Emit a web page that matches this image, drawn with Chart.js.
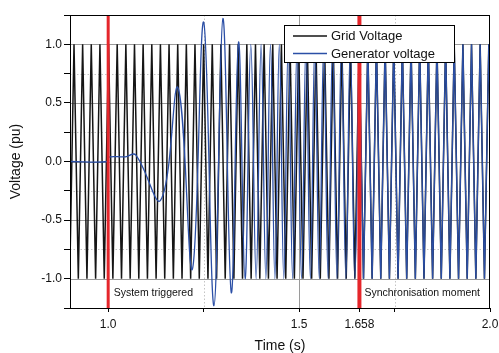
<!DOCTYPE html>
<html>
<head>
<meta charset="utf-8">
<script src="https://cdn.jsdelivr.net/npm/chart.js@4"></script>
<style>
  html, body { margin: 0; padding: 0; background: #fff; }
  #wrap { width: 499px; height: 353px; }
</style>
</head>
<body>
<div id="wrap"><canvas id="chart" width="499" height="353"></canvas></div>
<script>
// Grid voltage: peak times (s) and peak values (pu)
const gridTime = [
  0.8992,
  0.9105, 0.9218, 0.9331, 0.9444, 0.9557, 0.9671, 0.9784, 0.9897,
  1.0010, 1.0123, 1.0236, 1.0349, 1.0463, 1.0576, 1.0689, 1.0802,
  1.0915, 1.1028, 1.1142, 1.1255, 1.1368, 1.1481, 1.1594, 1.1707,
  1.1821, 1.1934, 1.2047, 1.2160, 1.2273, 1.2386, 1.2500, 1.2613,
  1.2726, 1.2839, 1.2952, 1.3065, 1.3179, 1.3292, 1.3405, 1.3518,
  1.3631, 1.3744, 1.3858, 1.3971, 1.4084, 1.4197, 1.4310, 1.4423,
  1.4537, 1.4650, 1.4763, 1.4876, 1.4989, 1.5102, 1.5216, 1.5329,
  1.5442, 1.5555, 1.5668, 1.5781, 1.5895, 1.6008, 1.6121, 1.6234,
  1.6347, 1.6460, 1.6574, 1.6687, 1.6800, 1.6913, 1.7026, 1.7139,
  1.7253, 1.7366, 1.7479, 1.7592, 1.7705, 1.7818, 1.7932, 1.8045,
  1.8158, 1.8271, 1.8384, 1.8497, 1.8611, 1.8724, 1.8837, 1.8950,
  1.9063, 1.9176, 1.9290, 1.9403, 1.9516, 1.9629, 1.9742, 1.9855,
  1.9969, 2.0082
];
const gridVolt = [
  -1,
  1, -1, 1, -1, 1, -1, 1, -1,
  1, -1, 1, -1, 1, -1, 1, -1,
  1, -1, 1, -1, 1, -1, 1, -1,
  1, -1, 1, -1, 1, -1, 1, -1,
  1, -1, 1, -1, 1, -1, 1, -1,
  1, -1, 1, -1, 1, -1, 1, -1,
  1, -1, 1, -1, 1, -1, 1, -1,
  1, -1, 1, -1, 1, -1, 1, -1,
  1, -1, 1, -1, 1, -1, 1, -1,
  1, -1, 1, -1, 1, -1, 1, -1,
  1, -1, 1, -1, 1, -1, 1, -1,
  1, -1, 1, -1, 1, -1, 1, -1,
  1, -1
];

// Generator voltage before synchronisation (turning points)
const genTime = [
  0.9, 0.9995, 1.0005, 1.045, 1.072,
  1.1374, 1.1827, 1.2204, 1.2500, 1.2770, 1.3005, 1.3225,
  1.3415, 1.3585, 1.3735, 1.3875, 1.4005, 1.4130, 1.4250,
  1.4366, 1.4482, 1.4599, 1.4715, 1.4831, 1.4947, 1.5063, 1.5180,
  1.5296, 1.5412, 1.5528, 1.5644, 1.5760, 1.5877, 1.5993, 1.6109,
  1.6225, 1.6341, 1.6458, 1.6574
];
const genVolt = [
  0, 0, 0.037, 0.04, 0.057,
  -0.33, 0.63, -0.92, 1.19, -1.23, 1.22, -1.12,
  1.02, -1, 1, -1, 1, -1, 1,
  -1, 1, -1, 1, -1, 1, -1, 1,
  -1, 1, -1, 1, -1, 1, -1, 1,
  -1, 1, -1, 1
];

const triggerTime = 1.0;
const syncTime = 1.658;
const xTicks = [1.0, 1.25, 1.5, 1.658, 1.75, 2.0];
const xLabels = [1.0, 1.5, 1.658, 2.0];
const yMajor = [-1.0, -0.5, 0.0, 0.5, 1.0];
const legendOrder = ["Grid Voltage", "Generator voltage"];

const FONT = "'Liberation Sans', Arial, Helvetica, sans-serif";

const toPts = (xs, ys) => xs.map((x, i) => ({ x: x, y: ys[i] }));
const gridPts = toPts(gridTime, gridVolt);
const genPre = toPts(genTime, genVolt);
// after synchronisation the generator follows the grid
const lastGen = genTime[genTime.length - 1];
const genPost = gridPts.filter(p => p.x >= lastGen);

const decor = {
  id: "decor",
  beforeDatasetsDraw(chart) {
    const { ctx, chartArea: a, scales: { x, y } } = chart;
    ctx.save();
    ctx.lineWidth = 1;
    // horizontal grid
    for (let v = -1.0; v <= 1.001; v += 0.25) {
      const py = Math.round(y.getPixelForValue(v)) + 0.5;
      const major = yMajor.some(m => Math.abs(m - v) < 1e-6);
      ctx.strokeStyle = major ? "#9a9a9a" : "#c4c4c4";
      ctx.setLineDash(major ? [] : [1.5, 2]);
      ctx.beginPath(); ctx.moveTo(a.left, py); ctx.lineTo(a.right, py); ctx.stroke();
    }
    // vertical grid
    [[1.25, false], [1.5, true], [1.75, false]].forEach(([v, major]) => {
      const px = Math.round(x.getPixelForValue(v)) + 0.5;
      ctx.strokeStyle = major ? "#9a9a9a" : "#c4c4c4";
      ctx.setLineDash(major ? [] : [1.5, 2]);
      ctx.beginPath(); ctx.moveTo(px, a.top); ctx.lineTo(px, a.bottom); ctx.stroke();
    });
    ctx.restore();
  },
  afterDatasetsDraw(chart) {
    const { ctx, chartArea: a, scales: { x, y } } = chart;
    ctx.save();
    // frame
    ctx.strokeStyle = "#000";
    ctx.lineWidth = 1;
    ctx.strokeRect(Math.round(a.left) + 0.5, Math.round(a.top) + 0.5,
      Math.round(a.right - a.left) - 1, Math.round(a.bottom - a.top));

    // annotations
    ctx.fillStyle = "#111";
    ctx.font = "10.5px " + FONT;
    ctx.textBaseline = "middle";
    ctx.textAlign = "left";
    ctx.fillText("System triggered", x.getPixelForValue(triggerTime) + 5.5, 293);
    ctx.fillText("Synchronisation moment", x.getPixelForValue(syncTime) + 5, 293);

    // legend box
    const lx = 284.5, ly = 25.5, lw = 170, lh = 37;
    ctx.fillStyle = "#fff";
    ctx.fillRect(lx, ly, lw, lh);
    ctx.strokeStyle = "#000";
    ctx.strokeRect(lx, ly, lw, lh);
    legendOrder.forEach((name, i) => {
      const d = chart.data.datasets.find(ds => ds.label === name);
      const ry = 36 + i * 17.5;
      ctx.strokeStyle = d.borderColor;
      ctx.lineWidth = 1.3;
      ctx.beginPath(); ctx.moveTo(293, ry); ctx.lineTo(327, ry); ctx.stroke();
      ctx.fillStyle = "#111";
      ctx.font = "13px " + FONT;
      ctx.fillText(d.label, 331, ry + 0.5);
    });
    ctx.restore();
  }
};

new Chart(document.getElementById("chart"), {
  type: "line",
  data: {
    datasets: [
      { label: "trigger", data: [{ x: triggerTime, y: -1.25 }, { x: triggerTime, y: 1.25 }],
        borderColor: "#e5262b", borderWidth: 3, order: 0 },
      { label: "sync", data: [{ x: syncTime, y: -1.25 }, { x: syncTime, y: 1.25 }],
        borderColor: "#e5262b", borderWidth: 4, order: 0 },
      { label: "Generator voltage", data: genPre,
        borderColor: "#2b4fa6", borderWidth: 1.3, tension: 0.4, order: 1 },
      { label: "gen post", data: genPost,
        borderColor: "#2b4fa6", borderWidth: 1.3, tension: 0, order: 1 },
      { label: "Grid Voltage", data: gridPts,
        borderColor: "#151515", borderWidth: 1.5, tension: 0, order: 2 }
    ]
  },
  options: {
    responsive: false,
    animation: false,
    parsing: false,
    normalized: true,
    elements: { point: { radius: 0 } },
    layout: { padding: { top: 15, right: 9, left: 0, bottom: 0 } },
    plugins: { legend: { display: false }, tooltip: { enabled: false } },
    scales: {
      x: {
        type: "linear", min: 0.9, max: 2.0,
        afterBuildTicks: s => { s.ticks = xTicks.map(v => ({ value: v })); },
        afterFit: s => { s.height = 45; s.paddingLeft = 0; s.paddingRight = 0; },
        grid: { drawOnChartArea: false, drawTicks: true, tickLength: 4, tickColor: "#000" },
        border: { display: false },
        ticks: {
          padding: 5, color: "#111", maxRotation: 0, autoSkip: false,
          font: { family: FONT, size: 12 },
          callback: v => xLabels.some(l => Math.abs(l - v) < 1e-6)
            ? (Math.abs(v - syncTime) < 1e-6 ? "1.658" : v.toFixed(1)) : ""
        },
        title: { display: true, text: "Time (s)", color: "#111",
          font: { family: FONT, size: 14, lineHeight: 1.0 }, padding: { top: 0, bottom: 0 } }
      },
      y: {
        type: "linear", min: -1.25, max: 1.25,
        afterBuildTicks: s => {
          const t = [];
          for (let v = -1.25; v <= 1.2501; v += 0.25) t.push({ value: Math.round(v * 100) / 100 });
          s.ticks = t;
        },
        afterFit: s => { s.width = 70; s.paddingTop = 0; s.paddingBottom = 0; },
        grid: { drawOnChartArea: false, drawTicks: true, tickLength: 6, tickColor: "#000" },
        border: { display: false },
        ticks: {
          padding: 2, color: "#111", autoSkip: false,
          font: { family: FONT, size: 12 },
          callback: v => yMajor.some(m => Math.abs(m - v) < 1e-6) ? v.toFixed(1) : ""
        },
        title: { display: true, text: "Voltage (pu)", color: "#111",
          font: { family: FONT, size: 14, lineHeight: 1.0 }, padding: { top: 9, bottom: 0 } }
      }
    }
  },
  plugins: [decor]
});
</script>
</body>
</html>
